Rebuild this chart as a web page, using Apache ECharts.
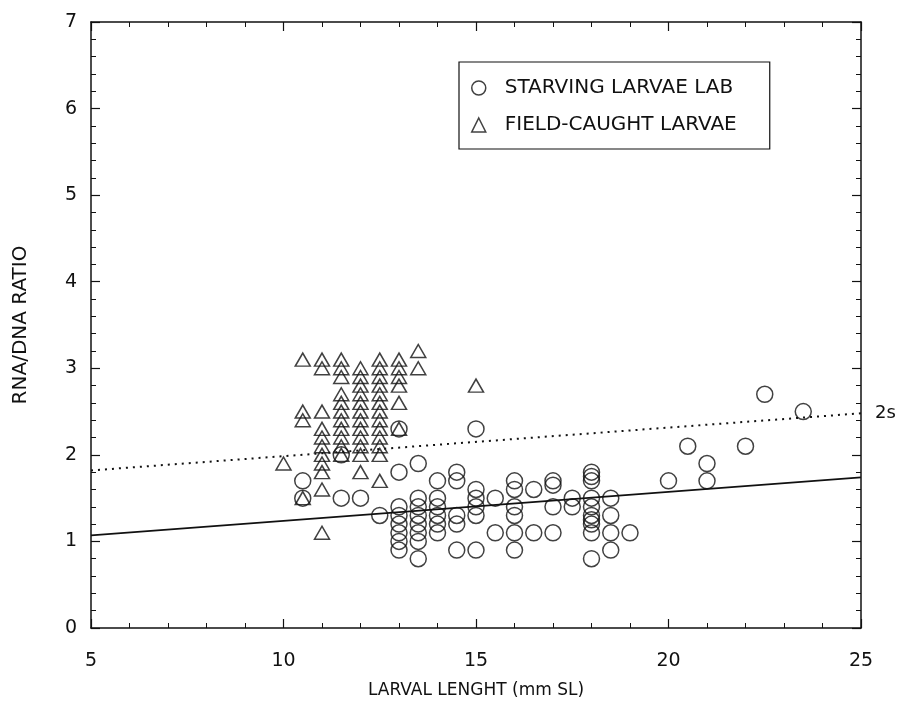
<!DOCTYPE html>
<html>
<head>
<meta charset="utf-8">
<script src="https://cdn.jsdelivr.net/npm/echarts@6/dist/echarts.min.js"></script>
<style>
  html, body { margin: 0; padding: 0; background: #fff; }
  #chart { width: 904px; height: 721px; }
</style>
</head>
<body>
<div id="chart"></div>
<script>
// larval length (mm SL) -> RNA/DNA ratios, grouped by length column
const labColumns = [
  [10.5, [1.7, 1.5]],
  [11.5, [2.0, 1.5]],
  [12, [1.5]],
  [12.5, [1.3]],
  [13, [2.3, 1.8, 1.4, 1.3, 1.2, 1.1, 1.0, 0.9]],
  [13.5, [1.9, 1.5, 1.4, 1.3, 1.2, 1.1, 1.0, 0.8]],
  [14, [1.7, 1.5, 1.4, 1.3, 1.2, 1.1]],
  [14.5, [1.8, 1.7, 1.3, 1.2, 0.9]],
  [15, [2.3, 1.6, 1.5, 1.4, 1.3, 0.9]],
  [15.5, [1.5, 1.1]],
  [16, [1.7, 1.6, 1.4, 1.3, 1.1, 0.9]],
  [16.5, [1.6, 1.1]],
  [17, [1.7, 1.65, 1.4, 1.1]],
  [17.5, [1.5, 1.4]],
  [18, [1.8, 1.75, 1.7, 1.5, 1.4, 1.3, 1.25, 1.2, 1.1, 0.8]],
  [18.5, [1.5, 1.3, 1.1, 0.9]],
  [19, [1.1]],
  [20, [1.7]],
  [20.5, [2.1]],
  [21, [1.9, 1.7]],
  [22, [2.1]],
  [22.5, [2.7]],
  [23.5, [2.5]]
];

const fieldColumns = [
  [10, [1.9]],
  [10.5, [3.1, 2.5, 2.4, 1.5]],
  [11, [3.1, 3.0, 2.5, 2.3, 2.2, 2.1, 2.0, 1.9, 1.8, 1.6, 1.1]],
  [11.5, [3.1, 3.0, 2.9, 2.7, 2.6, 2.5, 2.4, 2.3, 2.2, 2.1, 2.0]],
  [12, [3.0, 2.9, 2.8, 2.7, 2.6, 2.5, 2.4, 2.3, 2.2, 2.1, 2.0, 1.8]],
  [12.5, [3.1, 3.0, 2.9, 2.8, 2.7, 2.6, 2.5, 2.4, 2.3, 2.2, 2.1, 2.0, 1.7]],
  [13, [3.1, 3.0, 2.9, 2.8, 2.6, 2.3]],
  [13.5, [3.2, 3.0]],
  [15, [2.8]]
];

// fitted lines (end points)
const meanLine = [[5, 1.07], [25, 1.74]];
const twoSLine = [[5, 1.82], [25, 2.48]];

const xTicks = [5, 25, 5];   // min, max, interval
const yTicks = [0, 7, 1];

function flatten(cols) {
  const out = [];
  cols.forEach(function (c) {
    c[1].forEach(function (v) { out.push([c[0], v]); });
  });
  return out;
}

const FONT = 'DejaVu Sans';
const ink = '#111';
const markStyle = { color: 'transparent', borderColor: ink, borderWidth: 1.5 };

const myChart = echarts.init(document.getElementById('chart'));

const axisCommon = {
  type: 'value',
  axisLine: { show: true, onZero: false, lineStyle: { color: ink, width: 1.5 } },
  splitLine: { show: false },
  axisTick: { show: true, inside: true, length: 9, lineStyle: { color: ink, width: 1.2 } },
  minorTick: { show: true, length: 5, lineStyle: { color: ink, width: 1 } }
};

const options = {
  backgroundColor: '#fff',
  animation: false,
  grid: { left: 91, right: 43, top: 22, bottom: 93 },
  legend: {
    orient: 'vertical',
    left: 459,
    top: 62,
    padding: [16, 33, 14, 12],
    itemGap: 17,
    itemWidth: 14,
    itemHeight: 14,
    borderColor: ink,
    borderWidth: 1.2,
    textStyle: { fontFamily: FONT, fontSize: 20, color: ink, padding: [0, 0, 0, 14] },
    data: [
      { name: 'STARVING LARVAE LAB', icon: 'circle', itemStyle: markStyle },
      { name: 'FIELD-CAUGHT LARVAE', icon: 'triangle', itemStyle: markStyle }
    ]
  },
  xAxis: [
    Object.assign({}, axisCommon, {
      min: xTicks[0], max: xTicks[1], interval: xTicks[2],
      position: 'bottom',
      minorTick: Object.assign({}, axisCommon.minorTick, { splitNumber: 5 }),
      axisLabel: { fontFamily: FONT, fontSize: 19, color: ink, margin: 24 },
      name: 'LARVAL LENGHT (mm SL)',
      nameLocation: 'middle',
      nameGap: 54,
      nameTextStyle: { fontFamily: FONT, fontSize: 17, color: ink }
    }),
    Object.assign({}, axisCommon, {
      min: xTicks[0], max: xTicks[1], interval: xTicks[2],
      position: 'top',
      minorTick: Object.assign({}, axisCommon.minorTick, { splitNumber: 5 }),
      axisLabel: { show: false }
    })
  ],
  yAxis: [
    Object.assign({}, axisCommon, {
      min: yTicks[0], max: yTicks[1], interval: yTicks[2],
      position: 'left',
      minorTick: Object.assign({}, axisCommon.minorTick, { splitNumber: 5 }),
      axisLabel: { fontFamily: FONT, fontSize: 19, color: ink, margin: 14 },
      name: 'RNA/DNA RATIO',
      nameLocation: 'middle',
      nameGap: 60,
      nameTextStyle: { fontFamily: FONT, fontSize: 20, color: ink }
    }),
    Object.assign({}, axisCommon, {
      min: yTicks[0], max: yTicks[1], interval: yTicks[2],
      position: 'right',
      minorTick: Object.assign({}, axisCommon.minorTick, { splitNumber: 5 }),
      axisLabel: { show: false }
    })
  ],
  series: [
    {
      name: 'mean',
      type: 'line',
      data: meanLine,
      symbol: 'none',
      silent: true,
      lineStyle: { color: ink, width: 1.6 }
    },
    {
      name: '2s',
      type: 'line',
      data: twoSLine,
      symbol: 'none',
      silent: true,
      lineStyle: { color: ink, width: 2, type: [2, 5] },
      endLabel: {
        show: true,
        formatter: '2s',
        distance: 14,
        fontFamily: FONT,
        fontSize: 18,
        color: ink
      }
    },
    {
      name: 'STARVING LARVAE LAB',
      type: 'scatter',
      data: flatten(labColumns),
      symbol: 'circle',
      symbolSize: 16,
      itemStyle: markStyle
    },
    {
      name: 'FIELD-CAUGHT LARVAE',
      type: 'scatter',
      data: flatten(fieldColumns),
      symbol: 'triangle',
      symbolSize: [15, 13],
      itemStyle: markStyle
    }
  ]
};

myChart.setOption(options);
</script>
</body>
</html>
